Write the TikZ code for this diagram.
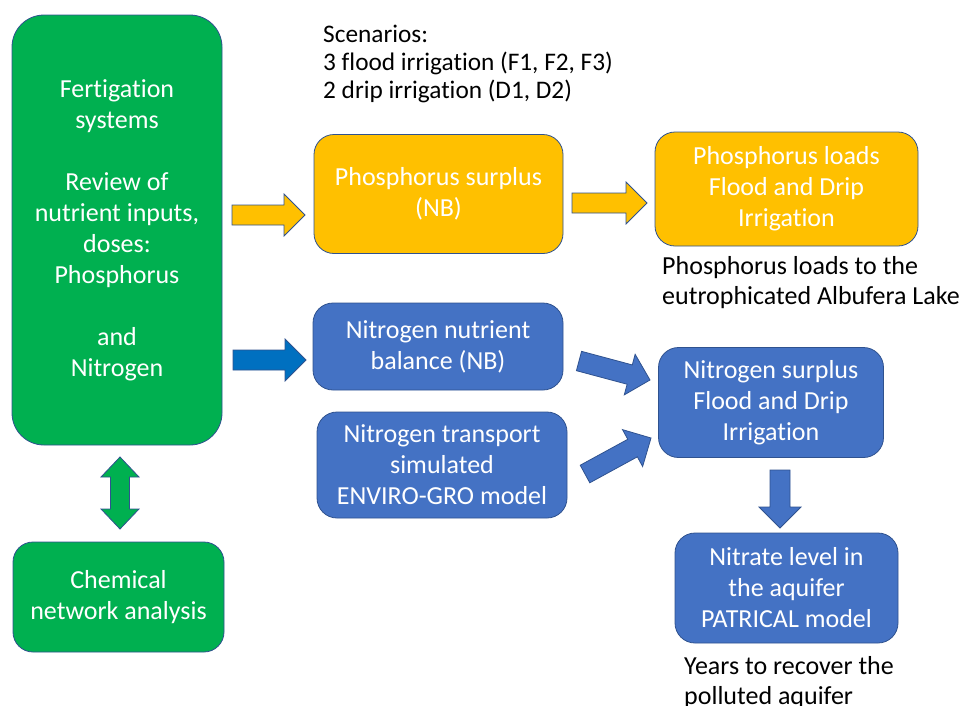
\documentclass[tikz,border=0pt]{standalone}
\usepackage{fontspec}
\setmainfont{Carlito}[Ligatures=NoCommon]
\usetikzlibrary{calc}
\definecolor{fgreen}{HTML}{00B050}
\definecolor{pyellow}{HTML}{FFC000}
\definecolor{nblue}{HTML}{4472C4}
\definecolor{dblue}{HTML}{0070C0}
\definecolor{edge}{HTML}{2F528F}

% block arrow: fill, tail, tip
\newcommand{\fatarrow}[3][]{%
  \coordinate (neck) at ($(#3)!21pt!(#2)$);
  \filldraw[draw=edge, line width=0.8pt, #1]
    ($(#2)!10pt!90:(#3)$) -- ($(neck)!10pt!90:(#3)$) -- ($(neck)!21pt!90:(#3)$) -- (#3)
    -- ($(neck)!21pt!-90:(#3)$) -- ($(neck)!10pt!-90:(#3)$) -- ($(#2)!10pt!-90:(#3)$) -- cycle;}
% block arrow with two heads
\newcommand{\dblarrow}[3][]{%
  \coordinate (necka) at ($(#2)!20pt!(#3)$);
  \coordinate (neckb) at ($(#3)!20pt!(#2)$);
  \filldraw[draw=edge, line width=0.8pt, #1]
    (#2) -- ($(necka)!19pt!90:(#3)$) -- ($(necka)!9.5pt!90:(#3)$) -- ($(neckb)!9.5pt!90:(#3)$)
    -- ($(neckb)!19pt!90:(#3)$) -- (#3) -- ($(neckb)!19pt!-90:(#3)$) -- ($(neckb)!9.5pt!-90:(#3)$)
    -- ($(necka)!9.5pt!-90:(#3)$) -- ($(necka)!19pt!-90:(#3)$) -- cycle;}

\tikzset{
  box/.style={rectangle, rounded corners=20pt, draw=edge, line width=0.8pt, text=white,
    align=center, inner sep=0pt, font=\fontsize{26}{31}\selectfont},
  greenbox/.style={box, fill=fgreen},
  yellowbox/.style={box, fill=pyellow},
  bluebox/.style={box, fill=nblue},
  note/.style={anchor=north west, align=left, inner sep=0pt, font=\fontsize{26}{30}\selectfont},
}

\begin{document}
\begin{tikzpicture}[x=1pt, y=-1pt]
  \useasboundingbox (0,0) rectangle (961,705);
  % left column
  \node[greenbox, rounded corners=32pt, minimum width=210pt, minimum height=430pt] (fert) at (117,230)
    {Fertigation\\ systems\\[31pt] Review of\\ nutrient inputs,\\ doses:\\ Phosphorus\\[31pt] and\\ Nitrogen};
  \node[greenbox, minimum width=211pt, minimum height=110pt] (chem) at (118.5,597) {Chemical\\ network analysis};
  % phosphorus row
  \node[yellowbox, minimum width=249pt, minimum height=119pt] (psur) at (438.5,194) {Phosphorus surplus\\ (NB)};
  \node[yellowbox, minimum width=263pt, minimum height=114pt] (pload) at (786.5,189)
    {Phosphorus loads\\ Flood and Drip\\ Irrigation};
  % nitrogen part
  \node[bluebox, minimum width=250pt, minimum height=87pt] (nbal) at (438,346.5) {Nitrogen nutrient\\ balance (NB)};
  \node[bluebox, minimum width=250pt, minimum height=106pt] (ntra) at (442,465)
    {Nitrogen transport\\ simulated\\ ENVIRO-GRO model};
  \node[bluebox, minimum width=225pt, minimum height=110pt] (nsur) at (771,402.5)
    {Nitrogen surplus\\ Flood and Drip\\ Irrigation};
  \node[bluebox, minimum width=223pt, minimum height=110pt] (nitr) at (786.5,588)
    {Nitrate level in\\ the aquifer\\ PATRICAL model};
  % notes
  \node[note, font=\fontsize{25.3}{28}\selectfont] (scen) at (323,25)
    {Scenarios:\\ 3 flood irrigation (F1, F2, F3)\\ 2 drip irrigation (D1, D2)};
  \node[note] (lake) at (662,256) {Phosphorus loads to the\\ eutrophicated Albufera Lake};
  \node[note] (years) at (684,656) {Years to recover the\\ polluted aquifer};
  % arrow ends
  \coordinate (ya1s) at (232,215);  \coordinate (ya1e) at (305,215);
  \coordinate (ya2s) at (572,203);  \coordinate (ya2e) at (647,203);
  \coordinate (ba1s) at (233,360);  \coordinate (ba1e) at (306,360);
  \coordinate (bd1s) at (579,361);  \coordinate (bd1e) at (650,380);
  \coordinate (bd2s) at (585,474);  \coordinate (bd2e) at (651,438);
  \coordinate (bdns) at (780,470);  \coordinate (bdne) at (780,528);
  \coordinate (gupp) at (120,457);  \coordinate (glow) at (120,529);
  % arrows
  \fatarrow[fill=pyellow]{ya1s}{ya1e}
  \fatarrow[fill=pyellow]{ya2s}{ya2e}
  \fatarrow[fill=dblue]{ba1s}{ba1e}
  \fatarrow[fill=nblue]{bd1s}{bd1e}
  \fatarrow[fill=nblue]{bd2s}{bd2e}
  \fatarrow[fill=nblue]{bdns}{bdne}
  \dblarrow[fill=fgreen]{gupp}{glow}
\end{tikzpicture}
\end{document}
